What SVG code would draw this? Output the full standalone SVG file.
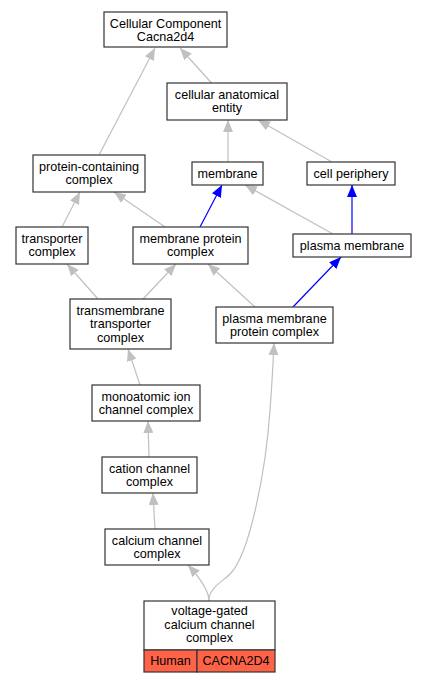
<svg xmlns="http://www.w3.org/2000/svg" width="427" height="683" viewBox="0 0 427 683">
<defs>
<style>
.n rect{fill:#fff;stroke:#333;stroke-width:1.2}
text{font-family:"Liberation Sans",Arial,sans-serif;font-size:12.6px;fill:#000;text-anchor:middle}
.e{fill:none;stroke:#c0c0c0;stroke-width:1.2}
.b{fill:none;stroke:#0000ff;stroke-width:1.2}
.sp rect{fill:#ff6347;stroke:#333;stroke-width:1.2}
</style>
<marker id="ag" viewBox="0 0 12 10" refX="12" refY="5" markerUnits="userSpaceOnUse" markerWidth="12" markerHeight="10" orient="auto"><path d="M0,0L12,5L0,10z" fill="#c0c0c0"/></marker>
<marker id="ab" viewBox="0 0 12 10" refX="12" refY="5" markerUnits="userSpaceOnUse" markerWidth="12" markerHeight="10" orient="auto"><path d="M0,0L12,5L0,10z" fill="#0000ff"/></marker>
</defs>
<rect width="427" height="683" fill="#fff"/>
<g id="edges">
<path class="e" marker-end="url(#ag)" d="M99,155L155,48"/>
<path class="e" marker-end="url(#ag)" d="M211.5,83L180,48"/>
<path class="e" marker-end="url(#ag)" d="M228,162L228,120"/>
<path class="e" marker-end="url(#ag)" d="M332,162L258,120"/>
<path class="e" marker-end="url(#ag)" d="M62,227L80,192"/>
<path class="e" marker-end="url(#ag)" d="M165,227L114,192"/>
<path class="b" marker-end="url(#ab)" d="M200,227L222,185"/>
<path class="e" marker-end="url(#ag)" d="M333,234L245,185"/>
<path class="b" marker-end="url(#ab)" d="M352,234L352,185"/>
<path class="e" marker-end="url(#ag)" d="M98,299L67,264"/>
<path class="e" marker-end="url(#ag)" d="M143,299L176,264"/>
<path class="e" marker-end="url(#ag)" d="M255,307L208,264"/>
<path class="b" marker-end="url(#ab)" d="M293,307L341,257"/>
<path class="e" marker-end="url(#ag)" d="M140,385L128,349"/>
<path class="e" marker-end="url(#ag)" d="M149,457L148,421"/>
<path class="e" marker-end="url(#ag)" d="M155,529L153,493"/>
<path class="e" marker-end="url(#ag)" d="M209,601C209,591 200,578 188,565"/>
<path class="e" marker-end="url(#ag)" d="M209,601C208,588 225,580 231,573C250,552 266,470 270,410C272,385 273,365 274,343"/>
</g>
<g id="cc" class="n"><rect x="104" y="12" width="123" height="35"/><text x="165.5" y="27.8">Cellular Component</text><text x="165.5" y="40.8">Cacna2d4</text></g>
<g id="cae" class="n"><rect x="167" y="83" width="120" height="37"/><text x="227" y="99">cellular anatomical</text><text x="227" y="112.3">entity</text></g>
<g id="pcc" class="n"><rect x="33" y="155" width="112" height="37"/><text x="89" y="171">protein-containing</text><text x="89" y="184.3">complex</text></g>
<g id="membrane" class="n"><rect x="192" y="162" width="71" height="23"/><text x="227.5" y="178">membrane</text></g>
<g id="cellperiphery" class="n"><rect x="307" y="162" width="88" height="23"/><text x="351" y="178">cell periphery</text></g>
<g id="transporter" class="n"><rect x="16" y="227" width="72" height="37"/><text x="52" y="243">transporter</text><text x="52" y="256.3">complex</text></g>
<g id="mpc" class="n"><rect x="133" y="227" width="115" height="37"/><text x="190.5" y="243">membrane protein</text><text x="190.5" y="256.3">complex</text></g>
<g id="pm" class="n"><rect x="293" y="234" width="118" height="23"/><text x="352" y="250">plasma membrane</text></g>
<g id="tmtc" class="n"><rect x="70" y="299" width="101" height="50"/><text x="120.5" y="314.5">transmembrane</text><text x="120.5" y="328">transporter</text><text x="120.5" y="341.5">complex</text></g>
<g id="pmpc" class="n"><rect x="216" y="307" width="117" height="36"/><text x="274.5" y="322.8">plasma membrane</text><text x="274.5" y="336.1">protein complex</text></g>
<g id="mic" class="n"><rect x="92" y="385" width="108" height="36"/><text x="146" y="400.8">monoatomic ion</text><text x="146" y="414.1">channel complex</text></g>
<g id="cation" class="n"><rect x="102" y="457" width="95" height="36"/><text x="149.5" y="472.8">cation channel</text><text x="149.5" y="486.1">complex</text></g>
<g id="calcium" class="n"><rect x="105" y="529" width="104" height="36"/><text x="157" y="544.8">calcium channel</text><text x="157" y="558.1">complex</text></g>
<g id="vgcc" class="n"><rect x="144" y="601" width="131" height="49"/><text x="209.5" y="615.3">voltage-gated</text><text x="209.5" y="628.6">calcium channel</text><text x="209.5" y="641.9">complex</text>
<g class="sp"><rect x="144" y="650" width="53" height="22"/><rect x="197" y="650" width="78" height="22"/></g><text x="170.5" y="664.5">Human</text><text x="236" y="664.5">CACNA2D4</text></g>
</svg>
